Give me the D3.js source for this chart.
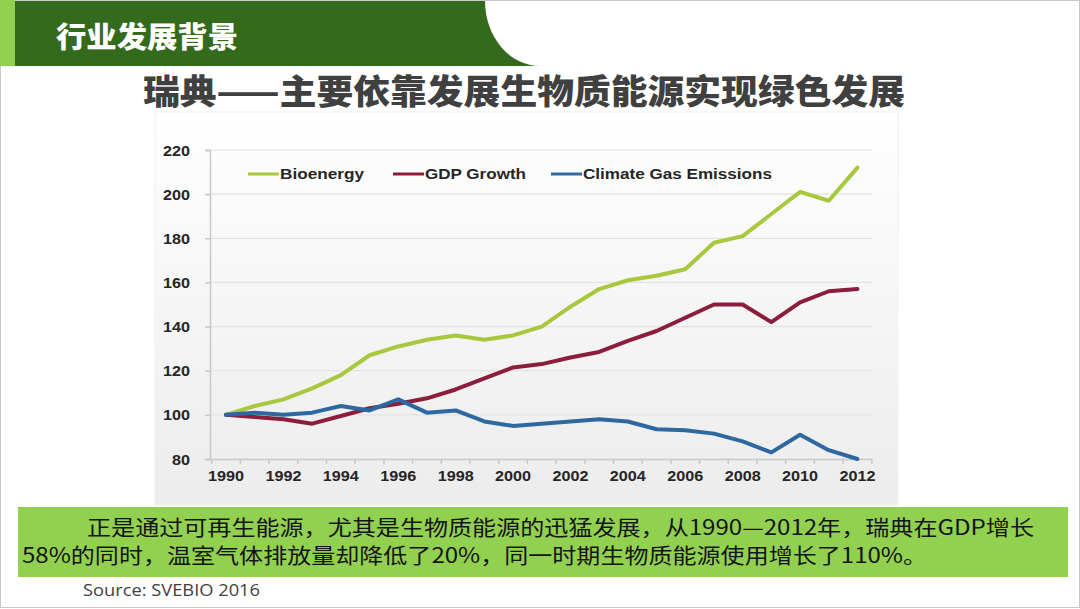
<!DOCTYPE html>
<html><head><meta charset="utf-8">
<script src="https://cdn.jsdelivr.net/npm/d3@7"></script>
<style>html,body{margin:0;padding:0;background:#fff;}svg{display:block;}</style>
</head><body>
<script>
const years = d3.range(1990, 2013);
const bioenergy = [100,104,107,112,118,127,131,134,136,134,136,140,149,157,161,163,166,178,181,191,201,197,212];
const gdpGrowth = [100,99,98,96,99.5,103,105,107.5,111.5,116.5,121.5,123,126,128.5,133.5,138,144,150,150,142,151,156,157];
const climateGas = [100,101,100,101,104,102,107,101,102,97,95,96,97,98,97,93.5,93,91.5,88,83,91,84,80];
const seriesNames = ["Bioenergy","GDP Growth","Climate Gas Emissions"];
const yTicks = [80,100,120,140,160,180,200,220];
const xTickLabels = [1990,1992,1994,1996,1998,2000,2002,2004,2006,2008,2010,2012];
const headerText = "行业发展背景";
const titleText = "瑞典——主要依靠发展生物质能源实现绿色发展";
const bodyLine1 = "正是通过可再生能源，尤其是生物质能源的迅猛发展，从1990—2012年，瑞典在GDP增长";
const bodyLine2 = "58%的同时，温室气体排放量却降低了20%，同一时期生物质能源使用增长了110%。";
const sourceText = "Source: SVEBIO 2016";

const W = 1080, H = 609;
const svg = d3.select("body").append("svg").attr("width", W).attr("height", H);
const defs = svg.append("defs");
const grad = defs.append("linearGradient").attr("id","bg").attr("x1",0).attr("y1",0).attr("x2",0).attr("y2",1);
grad.append("stop").attr("offset","0%").attr("stop-color","#ffffff");
grad.append("stop").attr("offset","100%").attr("stop-color","#ececec");

// slide border
svg.append("rect").attr("x",0.5).attr("y",0.5).attr("width",W-1).attr("height",607).attr("fill","none").attr("stroke","#c8c8c8");

// header
svg.append("rect").attr("x",0).attr("y",0).attr("width",15).attr("height",66).attr("fill","#92d050");
svg.append("path").attr("d","M15,1 L485,1 A55,65 0 0 0 540,66 L15,66 Z").attr("fill","#346a1c");
svg.append("text").attr("x",56).attr("y",48).attr("fill","#ffffff")
  .style("font-family","'Noto Sans CJK SC'").style("font-weight",900).style("font-size","29px")
  .attr("textLength",182).attr("lengthAdjust","spacingAndGlyphs").text(headerText);

// title
svg.append("text").attr("x",143).attr("y",104).attr("fill","#404040")
  .style("font-family","'Noto Sans CJK SC'").style("font-weight",900).style("font-size","34px")
  .attr("textLength",762).attr("lengthAdjust","spacingAndGlyphs").text(titleText);

// chart background
svg.append("rect").attr("x",155).attr("y",112).attr("width",743).attr("height",393).attr("fill","url(#bg)")
  .attr("stroke","#f0f0f0");

const x = d3.scaleBand().domain(years).range([211.7, 871.8]).padding(0);
const y = d3.scaleLinear().domain([80,220]).range([459,150]);
const cx = yr => x(yr) + x.bandwidth()/2;

const g = svg.append("g");
// gridlines
g.selectAll("line.grid").data(yTicks.filter(v=>v>80)).enter().append("line")
  .attr("x1",210).attr("x2",872).attr("y1",d=>y(d)).attr("y2",d=>y(d))
  .attr("stroke","#e3e3e3").attr("stroke-width",1.2);

const axisFont = sel => sel.style("font-family","'Liberation Sans', Arial, sans-serif").style("font-weight",700).style("font-size","14px").attr("fill","#262626");

// y axis
const yAxis = g.append("g").attr("transform","translate(210,0)")
  .call(d3.axisLeft(y).tickValues(yTicks).tickSize(5).tickPadding(15));
yAxis.select(".domain").attr("stroke","#c8c8c8").attr("stroke-width",1.5);
yAxis.selectAll(".tick line").attr("stroke","#c8c8c8").attr("stroke-width",1.5);
yAxis.selectAll(".tick text").call(axisFont).attr("dy","0.36em")
  .attr("textLength",d=> String(d).length*9).attr("lengthAdjust","spacingAndGlyphs");

// x axis
const xAxis = g.append("g").attr("transform","translate(0,459)")
  .call(d3.axisBottom(x).tickValues(xTickLabels).tickSize(0).tickPadding(12));
xAxis.select(".domain").attr("stroke","#c8c8c8").attr("stroke-width",1.5);
xAxis.selectAll(".tick text").call(axisFont)
  .attr("textLength",36).attr("lengthAdjust","spacingAndGlyphs");
g.selectAll("line.xt").data(years.concat([2013])).enter().append("line")
  .attr("x1",d=> d===2013 ? 871.8 : x(d)).attr("x2",d=> d===2013 ? 871.8 : x(d))
  .attr("y1",459).attr("y2",464).attr("stroke","#c8c8c8").attr("stroke-width",1.5);

// lines
const colors = ["#a8c83e","#8c1d3c","#2e68a0"];
const data = [bioenergy, gdpGrowth, climateGas];
const line = d3.line().x((d,i)=>cx(years[i])).y(d=>y(d));
data.forEach((s,k)=>{
  g.append("path").datum(s).attr("d",line).attr("fill","none")
   .attr("stroke",colors[k]).attr("stroke-width",4).attr("stroke-linejoin","round").attr("stroke-linecap","round");
});

// legend
const legendX = [248, 393, 551];
const legendW = [84, 101, 189];
const legend = g.selectAll("g.leg").data(seriesNames).enter().append("g")
  .attr("transform",(d,i)=>`translate(${legendX[i]},174)`);
legend.append("line").attr("x1",0).attr("x2",31).attr("y1",0).attr("y2",0)
  .attr("stroke",(d,i)=>colors[i]).attr("stroke-width",3);
legend.append("text").attr("x",32).attr("y",0).attr("dy","0.36em").text(d=>d)
  .style("font-family","'Liberation Sans', Arial, sans-serif").style("font-weight",700).style("font-size","14px").attr("fill","#262626")
  .attr("textLength",(d,i)=>legendW[i]).attr("lengthAdjust","spacingAndGlyphs");

// body text box
svg.append("rect").attr("x",18).attr("y",507).attr("width",1050).attr("height",70).attr("fill","#92d050");
const bodyFont = sel => sel.style("font-family","'Noto Sans CJK SC'").style("font-size","21px").attr("fill","#141414");
svg.append("text").attr("x",87).attr("y",535).call(bodyFont)
  .attr("textLength",947).attr("lengthAdjust","spacingAndGlyphs").text(bodyLine1);
svg.append("text").attr("x",22).attr("y",563).call(bodyFont)
  .attr("textLength",905).attr("lengthAdjust","spacingAndGlyphs").text(bodyLine2);

// source
svg.append("text").attr("x",83).attr("y",596).text(sourceText)
  .style("font-family","'Open Sans', sans-serif").style("font-size","16.5px").attr("fill","#404040")
  .attr("textLength",177).attr("lengthAdjust","spacingAndGlyphs");
</script>
</body></html>
